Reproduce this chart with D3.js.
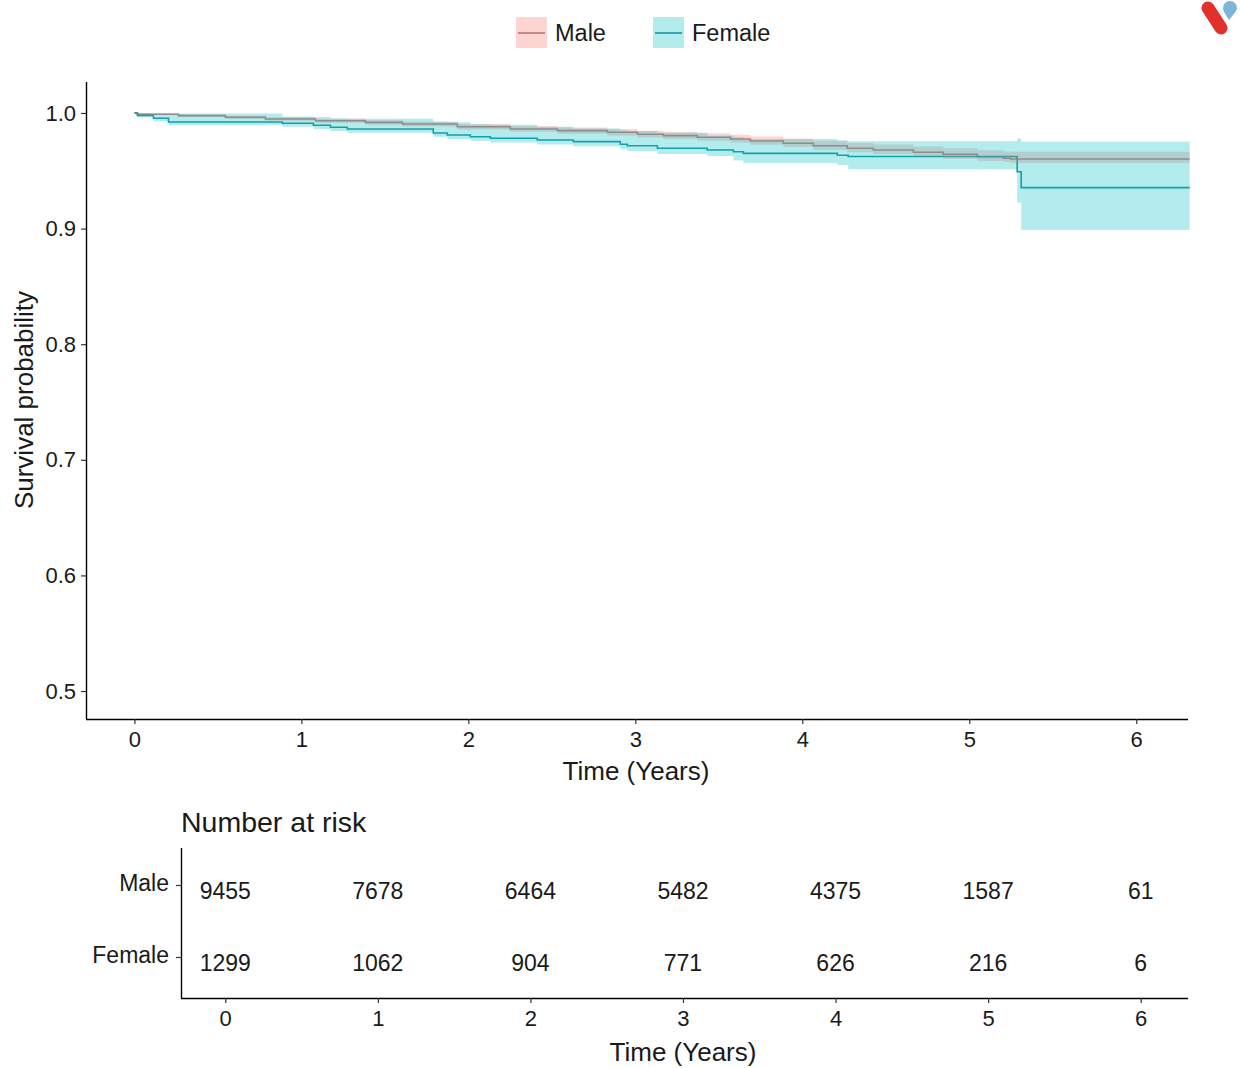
<!DOCTYPE html>
<html>
<head>
<meta charset="utf-8">
<script src="https://cdn.jsdelivr.net/npm/d3@7"></script>
<style>
  html, body { margin: 0; padding: 0; background: #ffffff; }
  svg { display: block; font-family: "Liberation Sans", Arial, sans-serif; }
</style>
</head>
<body>
<svg id="chart" width="1240" height="1068"></svg>
<script>
// ---------------- data ----------------
const groups = ["Male", "Female"];
const endTime = 6.32;

const maleTime  = [0, 0.018, 0.263, 0.545, 0.784, 1.084, 1.383, 1.605, 1.934, 2.251, 2.533, 2.832, 3.012, 3.168, 3.371, 3.569, 3.689, 3.886, 4.066, 4.269, 4.425, 4.665, 4.844, 5.048, 5.204, 5.246];
const maleSurv  = [1, 0.9989, 0.9977, 0.9963, 0.9948, 0.9933, 0.9919, 0.9905, 0.9881, 0.9862, 0.9847, 0.9833, 0.9816, 0.9804, 0.9790, 0.9775, 0.9758, 0.9738, 0.9717, 0.9695, 0.9680, 0.9660, 0.9643, 0.9622, 0.9608, 0.9602];
const maleUpper = [1, 0.9996, 0.9988, 0.9977, 0.9964, 0.9951, 0.9939, 0.9927, 0.9905, 0.9888, 0.9875, 0.9862, 0.9847, 0.9837, 0.9825, 0.9812, 0.9797, 0.9779, 0.9760, 0.9741, 0.9728, 0.9710, 0.9696, 0.9678, 0.9666, 0.9664];
const maleLower = [1, 0.9982, 0.9966, 0.9949, 0.9932, 0.9915, 0.9899, 0.9883, 0.9857, 0.9837, 0.9821, 0.9806, 0.9788, 0.9775, 0.9760, 0.9744, 0.9726, 0.9705, 0.9683, 0.9660, 0.9645, 0.9623, 0.9605, 0.9585, 0.9575, 0.9567];

const femaleTime  = [0, 0.018, 0.114, 0.204, 0.886, 1.072, 1.174, 1.275, 1.790, 1.874, 2.012, 2.132, 2.413, 2.629, 2.910, 2.952, 3.132, 3.431, 3.587, 3.647, 4.210, 4.275, 5.287, 5.311];
const femaleSurv  = [1, 0.9978, 0.9954, 0.9922, 0.9911, 0.9894, 0.9876, 0.9862, 0.9827, 0.9810, 0.9795, 0.9781, 0.9766, 0.9752, 0.9729, 0.9717, 0.9695, 0.9680, 0.9665, 0.9651, 0.9634, 0.9624, 0.9492, 0.9354];
const femaleUpper = [1, 0.9998, 0.9995, 0.9995, 0.9970, 0.9965, 0.9955, 0.9950, 0.9925, 0.9920, 0.9903, 0.9898, 0.9880, 0.9866, 0.9850, 0.9845, 0.9830, 0.9805, 0.9790, 0.9775, 0.9762, 0.9755, 0.9780, 0.9752];
const femaleLower = [1, 0.9962, 0.9930, 0.9895, 0.9880, 0.9862, 0.9845, 0.9830, 0.9795, 0.9776, 0.9760, 0.9745, 0.9728, 0.9712, 0.9686, 0.9672, 0.9645, 0.9628, 0.9590, 0.9565, 0.9550, 0.9513, 0.9225, 0.8988];

const xTicks = [0, 1, 2, 3, 4, 5, 6];
const yTicks = [0.5, 0.6, 0.7, 0.8, 0.9, 1.0];

const riskTimes  = [0, 1, 2, 3, 4, 5, 6];
const riskMale   = [9455, 7678, 6464, 5482, 4375, 1587, 61];
const riskFemale = [1299, 1062, 904, 771, 626, 216, 6];

// ---------------- styles ----------------
const lineColor   = { Male: "#B97677", Female: "#1D939F" };
const ribbonColor = { Male: "#F8766D", Female: "#00BFC4" };
const ribbonAlpha = 0.3;
const textColor = "#1a1a1a";
const FONT = '"Liberation Sans", Arial, sans-serif';

const svg = d3.select("#chart");

// ---------------- main plot ----------------
const xMain = d3.scaleLinear().domain([-0.29, 6.31]).range([86, 1188]);
const yMain = d3.scaleLinear().domain([0.4758, 1.0268]).range([719, 82]);

function buildSeries(time, surv, lo, up) {
  const pts = time.map((t, i) => ({ t: t, s: surv[i], lo: lo[i], up: up[i] }));
  const last = pts[pts.length - 1];
  pts.push({ t: endTime, s: last.s, lo: last.lo, up: last.up });
  return pts;
}
const series = {
  Male: buildSeries(maleTime, maleSurv, maleLower, maleUpper),
  Female: buildSeries(femaleTime, femaleSurv, femaleLower, femaleUpper)
};

const stepLine = d3.line().curve(d3.curveStepAfter)
  .x(d => xMain(d.t)).y(d => yMain(d.s));
const stepArea = d3.area().curve(d3.curveStepAfter)
  .x(d => xMain(d.t)).y0(d => yMain(d.lo)).y1(d => yMain(d.up));

const plotG = svg.append("g");
// lines first (ribbons are drawn over the step lines)
groups.forEach(g => {
  plotG.append("path").datum(series[g])
    .attr("d", stepLine)
    .attr("fill", "none")
    .attr("stroke", lineColor[g])
    .attr("stroke-width", 1.6);
});
groups.forEach(g => {
  plotG.append("path").datum(series[g])
    .attr("d", stepArea)
    .attr("fill", ribbonColor[g])
    .attr("fill-opacity", ribbonAlpha)
    .attr("stroke", "none");
});

// axes
const yAxisMain = svg.append("g")
  .attr("transform", `translate(${xMain.range()[0]},0)`)
  .call(d3.axisLeft(yMain).tickValues(yTicks).tickFormat(d3.format(".1f")).tickSize(5).tickPadding(5));
const xAxisMain = svg.append("g")
  .attr("transform", `translate(0,${yMain.range()[0]})`)
  .call(d3.axisBottom(xMain).tickValues(xTicks).tickFormat(d3.format("d")).tickSize(5).tickPadding(7));

[yAxisMain, xAxisMain].forEach(ax => {
  ax.attr("font-size", 22).attr("font-family", FONT);
  ax.select(".domain").attr("stroke", "#000").attr("stroke-width", 1.4);
  ax.selectAll(".tick line").attr("stroke", "#333").attr("stroke-width", 1.2);
  ax.selectAll(".tick text").attr("font-size", 22).attr("fill", textColor);
});
yAxisMain.select(".domain").attr("d", `M0.5,${yMain.range()[1]}V${yMain.range()[0]}`);
xAxisMain.select(".domain").attr("d", `M${xMain.range()[0]},0.5H${xMain.range()[1]}`);

svg.append("text")
  .attr("x", 636).attr("y", 780)
  .attr("text-anchor", "middle").attr("font-size", 26).attr("fill", textColor)
  .text("Time (Years)");
svg.append("text")
  .attr("transform", "translate(33,400) rotate(-90)")
  .attr("text-anchor", "middle").attr("font-size", 26).attr("fill", textColor)
  .text("Survival probability");

// ---------------- legend ----------------
const legendItems = [
  { g: "Male", x: 516, label: "Male" },
  { g: "Female", x: 653, label: "Female" }
];
const legG = svg.append("g");
legendItems.forEach(it => {
  legG.append("rect")
    .attr("x", it.x).attr("y", 17).attr("width", 31).attr("height", 31)
    .attr("fill", ribbonColor[it.g]).attr("fill-opacity", ribbonAlpha);
  legG.append("line")
    .attr("x1", it.x + 2).attr("x2", it.x + 29).attr("y1", 33).attr("y2", 33)
    .attr("stroke", lineColor[it.g]).attr("stroke-width", 1.6);
  legG.append("text")
    .attr("x", it.x + 39).attr("y", 41)
    .attr("font-size", 23.5).attr("fill", textColor)
    .text(it.label);
});

// ---------------- logo ----------------
const logo = svg.append("g");
logo.append("line")
  .attr("x1", 1208).attr("y1", 8).attr("x2", 1221).attr("y2", 28)
  .attr("stroke", "#E2302A").attr("stroke-width", 13).attr("stroke-linecap", "round");
logo.append("path")
  .attr("d", "M1229,20 C1226,15 1223,11 1223,8 A7,7 0 0 1 1237,8 C1237,11 1233,15 1229,20 Z")
  .attr("fill", "#7DB4D8");

// ---------------- risk table ----------------
const xRisk = d3.scaleLinear().domain([-0.29, 6.31]).range([181, 1188]);
const yRisk = d3.scalePoint().domain(groups).range([885, 957]);
const riskTop = 848, riskBottom = 998;

svg.append("text")
  .attr("x", 181).attr("y", 832)
  .attr("font-size", 28.5).attr("fill", textColor)
  .text("Number at risk");

const riskYAxis = svg.append("g")
  .attr("transform", `translate(${xRisk.range()[0]},0)`)
  .call(d3.axisLeft(yRisk).tickSize(5).tickPadding(7));
riskYAxis.attr("font-size", 23).attr("font-family", FONT);
riskYAxis.select(".domain").attr("d", `M0.5,${riskTop}V${riskBottom}`)
  .attr("stroke", "#000").attr("stroke-width", 1.4);
riskYAxis.selectAll(".tick line").attr("stroke", "#333").attr("stroke-width", 1.2);
riskYAxis.selectAll(".tick text")
  .attr("font-size", 23).attr("fill", textColor).attr("dy", "0.25em");

const riskXAxis = svg.append("g")
  .attr("transform", `translate(0,${riskBottom})`)
  .call(d3.axisBottom(xRisk).tickValues(xTicks).tickFormat(d3.format("d")).tickSize(5).tickPadding(7));
riskXAxis.attr("font-size", 22).attr("font-family", FONT);
riskXAxis.select(".domain").attr("d", `M${xRisk.range()[0]},0.5H${xRisk.range()[1]}`)
  .attr("stroke", "#000").attr("stroke-width", 1.4);
riskXAxis.selectAll(".tick line").attr("stroke", "#333").attr("stroke-width", 1.2);
riskXAxis.selectAll(".tick text").attr("font-size", 22).attr("fill", textColor);

const riskRows = [
  { g: "Male", vals: riskMale },
  { g: "Female", vals: riskFemale }
];
riskRows.forEach(r => {
  svg.append("g").selectAll("text")
    .data(r.vals.map((v, i) => ({ t: riskTimes[i], v: v })))
    .join("text")
    .attr("x", d => xRisk(d.t))
    .attr("y", yRisk(r.g) + 14)
    .attr("text-anchor", "middle")
    .attr("font-size", 23).attr("fill", textColor)
    .text(d => d.v);
});

svg.append("text")
  .attr("x", 683).attr("y", 1061)
  .attr("text-anchor", "middle").attr("font-size", 26).attr("fill", textColor)
  .text("Time (Years)");
</script>
</body>
</html>
